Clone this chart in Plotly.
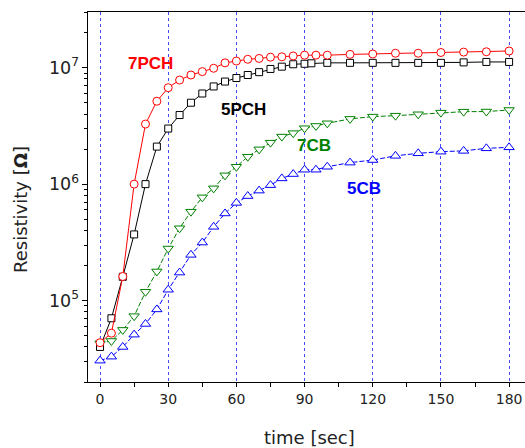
import plotly.graph_objects as go

# time points (sec)
t_main = [0, 5, 10, 15, 20, 25, 30, 35, 40, 45, 50, 55, 60, 65, 70, 75, 80, 85, 90, 95,
          100, 110, 120, 130, 140, 150, 160, 170, 180]
t_5pch = [0, 5, 10, 15, 20, 25, 30, 35, 40, 45, 50, 55, 60, 65, 70, 75, 80, 85, 90, 93,
          100, 110, 120, 130, 140, 150, 160, 170, 180]

r_7pch = [4.35e4, 5.25e4, 1.61e5, 1.0e6, 3.28e6, 5.15e6, 6.73e6, 7.83e6, 8.65e6, 9.25e6,
          9.88e6, 1.10e7, 1.14e7, 1.18e7, 1.20e7, 1.23e7, 1.24e7, 1.26e7, 1.28e7, 1.28e7,
          1.28e7, 1.30e7, 1.31e7, 1.33e7, 1.33e7, 1.35e7, 1.36e7, 1.37e7, 1.39e7]
r_5pch = [4.0e4, 7.05e4, 1.6e5, 3.7e5, 1.0e6, 2.1e6, 3.0e6, 3.92e6, 5.0e6, 6.0e6,
          6.9e6, 7.6e6, 8.15e6, 8.65e6, 9.15e6, 9.75e6, 1.02e7, 1.07e7, 1.08e7, 1.09e7,
          1.10e7, 1.10e7, 1.10e7, 1.10e7, 1.10e7, 1.10e7, 1.11e7, 1.12e7, 1.12e7]
r_7cb = [4.3e4, 4.5e4, 5.6e4, 7.35e4, 1.19e5, 1.78e5, 2.8e5, 4.18e5, 5.8e5, 7.7e5,
         9.2e5, 1.19e6, 1.41e6, 1.72e6, 1.99e6, 2.27e6, 2.56e6, 2.74e6, 3.02e6, 3.16e6,
         3.33e6, 3.63e6, 3.8e6, 3.87e6, 3.98e6, 4.11e6, 4.19e6, 4.2e6, 4.33e6]
r_5cb = [3.05e4, 3.3e4, 4.0e4, 5.1e4, 6.3e4, 8.4e4, 1.24e5, 1.74e5, 2.47e5, 3.15e5,
         4.3e5, 5.6e5, 6.9e5, 7.9e5, 8.8e5, 9.8e5, 1.12e6, 1.22e6, 1.33e6, 1.33e6,
         1.41e6, 1.53e6, 1.61e6, 1.75e6, 1.84e6, 1.9e6, 1.93e6, 2.03e6, 2.07e6]

x_ticks = [0, 30, 60, 90, 120, 150, 180]

labels = ["7PCH", "5PCH", "7CB", "5CB"]
label_x = [22, 63, 94, 116]
label_logy = [7.036, 6.645, 6.328, 5.959]
colors = ["#ff0000", "#000000", "#008000", "#0000ff"]

W, H = 525, 448
ml, mr, mt, mb = 88, 0, 12, 66
pw, ph = W - ml - mr, H - mt - mb

fig = go.Figure()

series = [
    (t_main, r_5cb, "#0000ff", "triangle-up", "5px,2px", 9),
    (t_main, r_7cb, "#008000", "triangle-down", "5px,2px", 9),
    (t_5pch, r_5pch, "#000000", "square", "solid", 7),
    (t_main, r_7pch, "#ff0000", "circle", "solid", 8),
]
for x, y, c, sym, dash, size in series:
    fig.add_trace(go.Scatter(
        x=x, y=y, mode="lines+markers",
        line=dict(color=c, width=1, dash=dash),
        marker=dict(symbol=sym, size=size, color="white", line=dict(color=c, width=1)),
        showlegend=False,
    ))

for txt, lx, ly, c in zip(labels, label_x, label_logy, colors):
    fig.add_annotation(x=lx, y=ly, xref="x", yref="y", text="<b>" + txt + "</b>",
                       showarrow=False,
                       font=dict(family="Liberation Sans", size=17, color=c),
                       xanchor="center", yanchor="middle")


def to_paper(px, py):
    return (px - ml) / pw, 1 - (py - mt) / ph


tx, ty = to_paper(309, 437)
fig.add_annotation(x=tx, y=ty, xref="paper", yref="paper", text="time [sec]",
                   showarrow=False, xanchor="center", yanchor="middle",
                   font=dict(family="DejaVu Sans", size=18, color="#222"))
rx, ry = to_paper(20, 210)
fig.add_annotation(x=rx, y=ry, xref="paper", yref="paper", text="Resistivity [<b>Ω</b>]",
                   showarrow=False, textangle=-90, xanchor="center", yanchor="middle",
                   font=dict(family="DejaVu Sans", size=18, color="#222"))

fig.update_layout(
    width=W, height=H,
    margin=dict(l=ml, r=mr, t=mt, b=mb, autoexpand=False),
    paper_bgcolor="white", plot_bgcolor="white",
    font=dict(family="DejaVu Sans", size=14, color="#222"),
)
fig.update_xaxes(
    range=[-5.3, 187], tickvals=x_ticks, ticktext=[str(v) for v in x_ticks],
    showline=True, linecolor="black", linewidth=1.3, mirror=True,
    ticks="outside", ticklen=4, tickcolor="black", tickwidth=1.2,
    minor=dict(ticks="outside", dtick=15, tick0=0, ticklen=4, tickcolor="black", tickwidth=1.2, showgrid=False),
    showgrid=True, gridcolor="rgba(40,40,255,0.85)", griddash="dot", gridwidth=1,
    zeroline=False, automargin=False, tickfont=dict(size=14, color="#222"),
)
fig.update_yaxes(
    type="log", range=[4.301, 7.478], dtick=1, exponentformat="power",
    showline=True, linecolor="black", linewidth=1.3, mirror=False,
    ticks="outside", ticklen=5, tickcolor="black", tickwidth=1.2,
    minor=dict(ticks="outside", ticklen=3, dtick="D1", tickcolor="black", tickwidth=1, showgrid=False),
    showgrid=False, zeroline=False, automargin=False, tickfont=dict(size=14, color="#222"),
)

fig.write_html("out.html", config={"displayModeBar": False},
               post_script="document.body.style.margin='0';document.body.style.overflow='hidden';")
